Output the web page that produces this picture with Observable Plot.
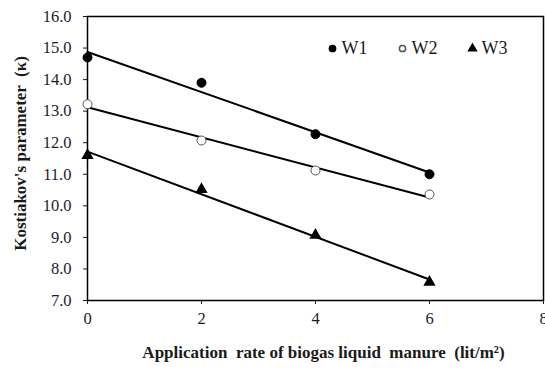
<!DOCTYPE html>
<html>
<head>
<meta charset="utf-8">
<script src="https://cdn.jsdelivr.net/npm/d3@7"></script>
<script src="https://cdn.jsdelivr.net/npm/@observablehq/plot@0.6"></script>
<style>
  body { margin: 0; background: #fff; }
  #chart svg { display: block; font-family: "Liberation Serif", serif; }
  #chart svg text { font-family: "Liberation Serif", serif; }
</style>
</head>
<body>
<div id="chart"></div>
<script>
const rates = [0, 2, 4, 6];
const w1 = [14.7, 13.9, 12.27, 11.0];
const w2 = [13.22, 12.07, 11.12, 10.36];
const w3 = [11.6, 10.52, 9.07, 7.58];
const seriesNames = ["W1", "W2", "W3"];
const xTicks = [0, 2, 4, 6, 8];
const yTicks = [7, 8, 9, 10, 11, 12, 13, 14, 15, 16];

const seriesVals = [w1, w2, w3];
const data = [];
seriesNames.forEach((s, i) => rates.forEach((r, j) => data.push({series: s, x: r, y: seriesVals[i][j]})));

const fillOf = {W1: "#000", W2: "#fff", W3: "#000"};
const strokeOf = {W1: "#000", W2: "#555", W3: "#000"};
const symOf = {W1: "circle", W2: "circle", W3: "triangle"};

const legend = seriesNames.map((s, i) => ({series: s, i}));

const place = (dx0, dy0) => (index, scales, values, dims, ctx, next) => {
  const g = next(index, scales, values, dims, ctx);
  d3.select(g).selectAll("path,text").attr("transform", (i, k) => `translate(${dims.marginLeft + dx0 + legend[index[k]].i * 70},${dims.marginTop + dy0})`);
  return g;
};

const chart = Plot.plot({
  width: 545,
  height: 371,
  marginLeft: 87,
  marginTop: 16,
  marginRight: 2,
  marginBottom: 71,
  style: {fontSize: "16px", color: "#1a1a1a", background: "#fff"},
  x: {domain: [0, 8], label: null},
  y: {domain: [7, 16], label: null},
  marks: [
    Plot.frame({stroke: "#000", strokeWidth: 1.5}),
    Plot.axisX({ticks: xTicks, tickSize: 4, tickFormat: () => "", label: null}),
    Plot.axisY({ticks: yTicks, tickSize: 4, tickFormat: () => "", label: null}),
    Plot.text(xTicks, {x: d => d, text: d => String(d), frameAnchor: "bottom", lineAnchor: "top", dy: 12, fontSize: 16.5, fill: "#1c1c2a", clip: false}),
    Plot.text(yTicks, {y: d => d, text: d => d.toFixed(1), frameAnchor: "left", textAnchor: "end", dx: -16, fontSize: 16.5, fill: "#1c1c2a"}),
    Plot.linearRegressionY(data, {x: "x", y: "y", z: "series", stroke: "#000", strokeWidth: 2, ci: 0}),
    Plot.dot(data.filter(d => d.series !== "W3"), {x: "x", y: "y", r: 4.5, symbol: "circle",
      fill: d => fillOf[d.series], stroke: d => strokeOf[d.series], strokeWidth: 1}),
    Plot.dot(data.filter(d => d.series === "W3"), {x: "x", y: "y", r: 3.6, symbol: "triangle", fill: "#000", stroke: "#000"}),
    // legend
    Plot.dot(legend, {frameAnchor: "top-left", symbol: d => symOf[d.series],
      fill: d => fillOf[d.series], stroke: d => strokeOf[d.series], r: d => d.series === "W3" ? 3.4 : 4,
      render: place(245, 32)}),
    Plot.text(legend, {text: "series", frameAnchor: "top-left", textAnchor: "start", fontSize: 18, lineAnchor: "middle",
      render: place(254, 32)}),
    Plot.text(["Application  rate of biogas liquid  manure  (lit/m²)"], {frameAnchor: "bottom", dy: 57, dx: 8, fontWeight: "bold", fontSize: 17, textAnchor: "middle"}),
    Plot.text(["Kostiakov's parameter  (κ)"], {frameAnchor: "left", rotate: -90, dx: -67, dy: -5, textAnchor: "middle", fontWeight: "bold", fontSize: 17})
  ]
});
document.getElementById("chart").appendChild(chart);
</script>
</body>
</html>
